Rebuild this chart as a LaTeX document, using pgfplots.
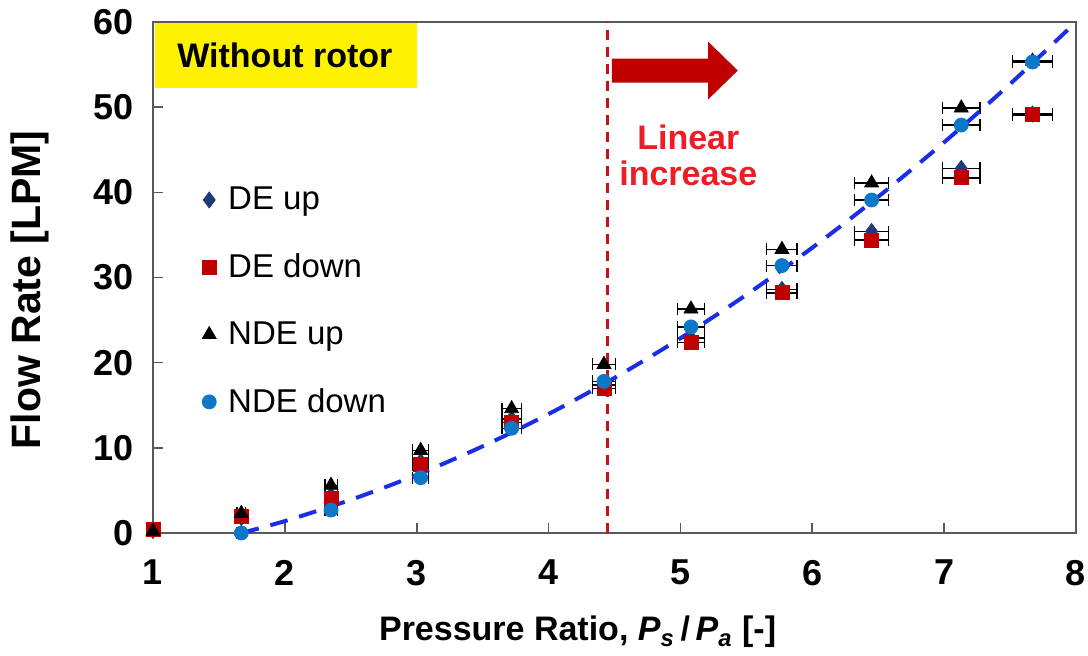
\documentclass[border=0pt]{standalone}
\usepackage{pgfplots}
\pgfplotsset{compat=1.18}
\usepackage{fontspec}
\setmainfont{Liberation Sans}

\definecolor{deup}{HTML}{1F3A78}
\definecolor{dedown}{HTML}{C00000}
\definecolor{ndedown}{HTML}{0E78C8}
\definecolor{fitblue}{HTML}{1A2EE6}
\definecolor{axisgray}{HTML}{595959}
\definecolor{markred}{HTML}{C8101A}
\definecolor{textred}{HTML}{EE1C25}

\begin{document}
\begin{tikzpicture}
\begin{axis}[
  scale only axis,
  width=461.5pt, height=255.5pt,
  xmin=1, xmax=8, ymin=0, ymax=60,
  xtick={1,2,...,8}, ytick={0,10,...,60},
  tick align=inside, tick pos=left,
  major tick length=5pt,
  axis line style={draw=axisgray, line width=0.8pt},
  every tick/.style={axisgray, line width=0.8pt},
  ticklabel style={font=\bfseries\fontsize{18}{20}\selectfont},
  /pgf/number format/assume math mode=true,
  xticklabel style={yshift=-10pt},
  yticklabel style={xshift=-6pt},
  xlabel={Pressure Ratio, \textit{P}\textsubscript{\textit{s}}\,/\,\textit{P}\textsubscript{\textit{a}} [-]},
  ylabel={Flow Rate [LPM]},
  xlabel style={font=\bfseries\fontsize{17}{20}\selectfont,
    at={(axis description cs:0.46,-0.194)}, anchor=center},
  ylabel style={font=\bfseries\fontsize{20.5}{22}\selectfont,
    at={(axis description cs:-0.133,0.476)}, anchor=center},
  clip=false,
  legend style={at={(axis cs:1.325,41.6)}, anchor=north west, draw=none, fill=none,
    font=\fontsize{16.5}{18}\selectfont, row sep=16.5pt,
    cells={anchor=west}},
  legend cell align=left,
]

% horizontal measurement uncertainty of 2 % on the pressure ratio
\pgfplotsset{ebar/.style={error bars/.cd, x dir=both, x fixed relative=0.02,
  error bar style={black, line width=0.7pt},
  error mark options={black, line width=0.7pt, mark size=3pt, rotate=90}}}

\addplot[only marks, mark=diamond*, mark size=4pt, color=deup, ebar] coordinates {
  (1.00,0.3) (1.67,1.8) (2.35,4.4) (3.03,8.4) (3.72,13.4) (4.42,17.4)
  (5.08,22.9) (5.77,28.6) (6.45,35.4) (7.13,42.8) (7.67,49.2)};
\addlegendentry{\hspace{4pt}DE up}

\addplot[only marks, mark=square*, mark size=3.5pt, color=dedown, ebar] coordinates {
  (1.00,0.4) (1.67,1.9) (2.35,4.1) (3.03,8.0) (3.72,13.0) (4.42,17.0)
  (5.08,22.4) (5.77,28.2) (6.45,34.4) (7.13,41.7) (7.67,49.1)};
\addlegendentry{\hspace{4pt}DE down}

\addplot[only marks, mark=triangle*, mark size=4pt, color=black, ebar] coordinates {
  (1.00,0.2) (1.67,2.3) (2.35,5.6) (3.03,9.7) (3.72,14.6) (4.42,19.8)
  (5.08,26.3) (5.77,33.3) (6.45,41.1) (7.13,49.9) (7.67,55.4)};
\addlegendentry{\hspace{4pt}NDE up}

\addplot[only marks, mark=*, mark size=3.5pt, color=ndedown, ebar] coordinates {
  (1.67,0.0) (2.35,2.7) (3.03,6.5) (3.72,12.3) (4.42,17.8)
  (5.08,24.2) (5.77,31.4) (6.45,39.1) (7.13,47.9) (7.67,55.3)};
\addlegendentry{\hspace{4pt}NDE down}

% trend line through the NDE down data
\addplot[fitblue, line width=2pt, dash pattern=on 9pt off 6pt, smooth, forget plot] coordinates {
  (1.67,0.0) (2.0,1.40) (2.5,3.90) (3.0,6.82) (3.5,10.18) (4.0,13.97)
  (4.5,18.21) (5.0,22.87) (5.5,27.97) (6.0,33.50) (6.5,39.48)
  (7.0,45.88) (7.5,52.72) (8.0,60.0)};

% onset of the linear region
\draw[markred, line width=1.5pt, dash pattern=on 5pt off 3.5pt]
  (axis cs:4.45,0) -- (axis cs:4.45,60);
\fill[dedown] (axis cs:4.48,55.71) -- (axis cs:5.21,55.71) -- (axis cs:5.21,57.7)
  -- (axis cs:5.435,54.3) -- (axis cs:5.21,50.9) -- (axis cs:5.21,52.89)
  -- (axis cs:4.48,52.89) -- cycle;
\node[textred, font=\bfseries\fontsize{17}{18}\selectfont, align=center]
  at (axis cs:5.06,44.4) {Linear\\increase};

% condition label
\fill[yellow] (axis cs:1.012,59.9) rectangle (axis cs:3.0,52.2);
\node[font=\bfseries\fontsize{17}{20}\selectfont] at (axis cs:2.0,56.1) {Without rotor};
\end{axis}
\pgfresetboundingbox
\useasboundingbox (-76.5pt,-61pt) rectangle (467.5pt,266.5pt);
\end{tikzpicture}
\end{document}
